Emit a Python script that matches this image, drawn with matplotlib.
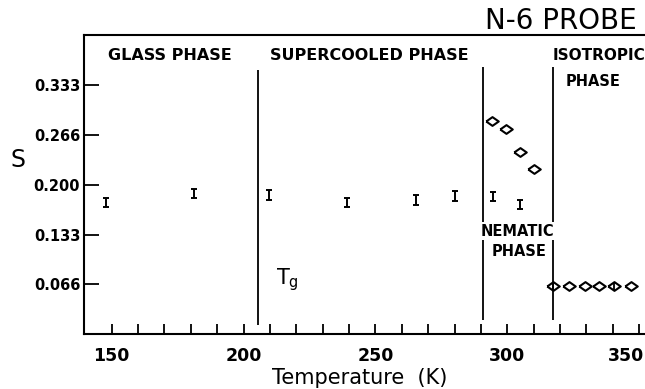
import matplotlib
matplotlib.use("Agg")
import matplotlib.pyplot as plt
import matplotlib.transforms as mtransforms
import numpy as np

# ---- data ----
temp_bars = [147.7, 181.3, 209.6, 239.2, 265.2, 280.0, 294.6, 304.8]
s_bars = [0.176, 0.188, 0.186, 0.176, 0.1795, 0.185, 0.184, 0.1735]
s_bars_err = [0.0065] * 8

temp_nematic = [294.0, 299.5, 304.8, 310.0]
s_nematic = [0.285, 0.274, 0.243, 0.221]

temp_iso = [317.4, 323.2, 329.3, 334.8, 340.6, 346.9]
s_iso = [0.064, 0.064, 0.064, 0.064, 0.064, 0.064]
s_iso_err = [0.0055, 0, 0, 0, 0.0055, 0]

phase_bounds = [205.4, 290.7, 317.5]
bound_lo = [0.012, 0.0197, 0.0197]
bound_hi = [0.353, 0.357, 0.357]

ytick_vals = [1/15, 2/15, 3/15, 4/15, 5/15]
ytick_labels = ["0.066", "0.133", "0.200", "0.266", "0.333"]
xtick_major = [150, 200, 250, 300, 350]

plt.rcParams['font.family'] = ['DejaVu Sans']

W, H = 645, 389
fig = plt.figure(figsize=(W/100, H/100), dpi=100)
ax = fig.add_axes([84.3/W, (H-334.3)/H, (W-84.3)/W, (334.3-35)/H])
ax.set_xlim(139.6, 352.2)
ax.set_ylim(0, 0.4)

for s in ['left', 'bottom', 'top']:
    ax.spines[s].set_linewidth(1.5)
ax.spines['right'].set_visible(False)

ax.set_yticks(ytick_vals)
ax.set_yticklabels(ytick_labels, fontsize=10.5, fontweight='bold')
ax.tick_params(axis='y', direction='in', length=11, width=1.3, pad=3, left=True, right=False)
ax.set_xticks(xtick_major)
ax.set_xticklabels([str(v) for v in xtick_major], fontsize=12.5, fontweight='bold')
ax.set_xticks(np.arange(160, 351, 10), minor=True)
ax.tick_params(axis='x', which='both', direction='in', length=7, width=1.3, pad=9, top=False)

# keep the last tick label inside the picture (the reference shows it at the edge)
last = ax.get_xticklabels()[-1]
last.set_horizontalalignment('right')
last.set_transform(last.get_transform() +
                   mtransforms.ScaledTranslation(5/100, 0, fig.dpi_scale_trans))

# phase boundaries
ax.vlines(phase_bounds, bound_lo, bound_hi, colors='black', linewidth=1.3, zorder=1)

# error bar points
ax.errorbar(temp_bars, s_bars, yerr=s_bars_err, fmt='none', ecolor='black',
            elinewidth=1.4, capsize=2, capthick=1.4, zorder=3)

diamond = [(-1, 0), (0, 0.7), (1, 0), (0, -0.7), (-1, 0)]
ax.errorbar(temp_iso, s_iso, yerr=s_iso_err, fmt='none', ecolor='black',
            elinewidth=1.3, capsize=0, zorder=3)
ax.plot(temp_nematic, s_nematic, linestyle='none', marker=diamond, markersize=9,
        markerfacecolor='none', markeredgecolor='black', markeredgewidth=1.5, zorder=4)
ax.plot(temp_iso, s_iso, linestyle='none', marker=diamond, markersize=9,
        markerfacecolor='none', markeredgecolor='black', markeredgewidth=1.5, zorder=4)

def ftext(px, py, s, **kw):
    fig.text(px/W, 1 - py/H, s, **kw)

ftext(108, 55, "GLASS PHASE", fontsize=11.5, fontweight='bold', va='center', ha='left')
ftext(270, 55, "SUPERCOOLED PHASE", fontsize=11.5, fontweight='bold', va='center', ha='left')
ftext(553, 55, "ISOTROPIC", fontsize=11, fontweight='bold', va='center', ha='left')
ftext(566, 81, "PHASE", fontsize=10.5, fontweight='bold', va='center', ha='left')
ftext(481, 231, "NEMATIC", fontsize=10.5, fontweight='bold', va='center', ha='left',
      bbox=dict(facecolor='white', edgecolor='none', pad=1))
ftext(492, 251, "PHASE", fontsize=10.5, fontweight='bold', va='center', ha='left')
ftext(276, 280, r"$\mathregular{T_g}$", fontsize=15, va='center', ha='left')
ftext(637, 21, "N-6 PROBE", fontsize=20, va='center', ha='right')
ftext(360, 378, "Temperature  (K)", fontsize=15, va='center', ha='center')
ftext(18, 160, "S", fontsize=17, va='center', ha='center')

fig.savefig("out.png", dpi=100)
